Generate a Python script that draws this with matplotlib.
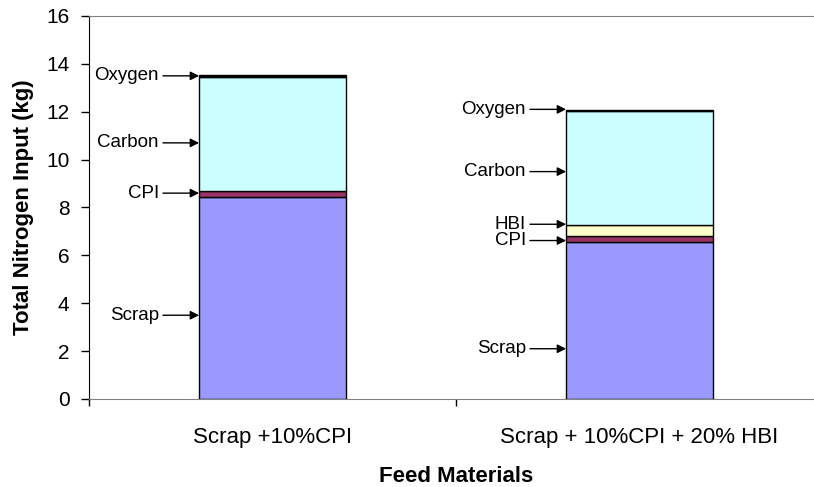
import matplotlib
matplotlib.use("Agg")
import matplotlib.pyplot as plt
import numpy as np

plt.rcParams['font.family'] = ['Liberation Sans', 'DejaVu Sans']

# Feed mixes and the nitrogen each source contributes (kg)
categories = ["Scrap +10%CPI", "Scrap + 10%CPI + 20% HBI"]
components = ["Scrap", "CPI", "HBI", "Carbon", "Oxygen"]
scrap = [8.45, 6.57]
cpi = [0.25, 0.22]
hbi = [0.0, 0.47]
carbon = [4.75, 4.78]
oxygen = [0.1, 0.04]
colors = ["#9999FF", "#993366", "#FFFFCC", "#CCFFFF", "#000000"]

# Where each call-out arrow meets the bar, per category
callouts = [
    [("Oxygen", 13.5), ("Carbon", 10.7), ("CPI", 8.6), ("Scrap", 3.5)],
    [("Oxygen", 12.1), ("Carbon", 9.5), ("HBI", 7.3), ("CPI", 6.62), ("Scrap", 2.1)],
]

W, H = 814, 487
fig = plt.figure(figsize=(W / 100, H / 100), dpi=100)
# plot area runs past the right edge of the canvas
ax = fig.add_axes([89 / W, 1 - 399 / H, 734 / W, (399 - 16) / H])

x = np.arange(len(categories))
bw = 0.40
bottom = np.zeros(len(categories))
for vals, col in zip([scrap, cpi, hbi, carbon, oxygen], colors):
    v = np.array(vals)
    mask = v > 0
    ax.bar(x[mask], v[mask], bw, bottom=bottom[mask], color=col,
           edgecolor="black", linewidth=1.0, zorder=3)
    bottom += v

ax.set_xlim(-0.5, 1.5)
ax.set_ylim(0, 16)
ax.set_yticks(np.arange(0, 17, 2))
ax.tick_params(axis="y", direction="out", length=6, width=1, labelsize=15, pad=8)
ax.set_xticks(x)
ax.set_xticklabels(categories, fontsize=16)
ax.tick_params(axis="x", which="major", length=0, pad=20)
ax.set_xticks([-0.5, 0.5, 1.5], minor=True)
ax.tick_params(axis="x", which="minor", direction="out", length=5, width=1, color="black")

ax.spines["right"].set_visible(False)
ax.spines["left"].set_color("black")
ax.spines["bottom"].set_color("#808080")
ax.spines["top"].set_color("#808080")

ax.set_ylabel("Total Nitrogen Input (kg)", fontsize=16, fontweight="bold", labelpad=9)
ax.set_xlabel("Feed Materials", fontsize=16, fontweight="bold", labelpad=13)

for i, items in enumerate(callouts):
    left = x[i] - bw / 2
    for name, yv in items:
        ax.annotate(name, xy=(left, yv), xytext=(-29, 0), textcoords="offset points",
                    ha="right", va="center", fontsize=13.5,
                    arrowprops=dict(arrowstyle="-|>", color="black", lw=1,
                                    mutation_scale=13, shrinkA=1, shrinkB=0),
                    zorder=5)

fig.savefig("out.png", dpi=100)
